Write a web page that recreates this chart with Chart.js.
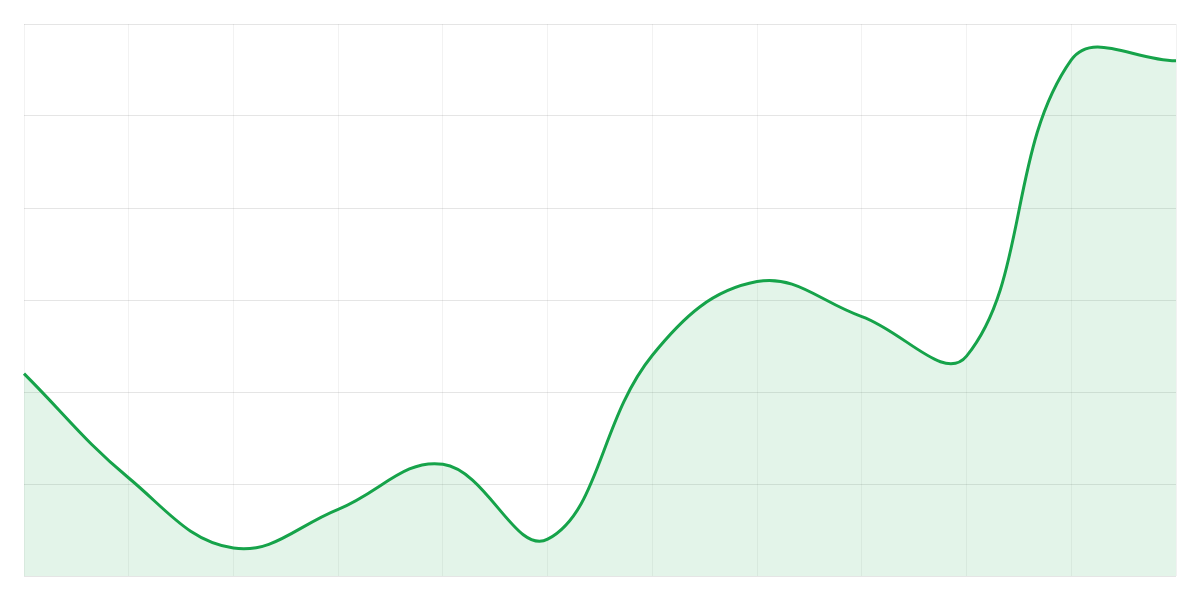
<!DOCTYPE html>
<html>
<head>
<meta charset="utf-8">
<script src="https://cdn.jsdelivr.net/npm/chart.js@4"></script>
<style>
  html, body { margin: 0; padding: 0; background: #ffffff; }
  #wrap { width: 1200px; height: 600px; }
</style>
</head>
<body>
<div id="wrap"><canvas id="c" width="1200" height="600"></canvas></div>
<script>
const categories = ["Jan", "Feb", "Mar", "Apr", "May", "Jun", "Jul", "Aug", "Sep", "Oct", "Nov", "Dec"];
const seriesValues = [22, 10.65, 3.04, 7.25, 12.14, 4.0, 24.0, 32.0, 28.2, 23.9, 56.1, 56.0];
const yMin = 0;
const yMax = 60;
const yStep = 10;

new Chart(document.getElementById('c'), {
  type: 'line',
  data: {
    labels: categories,
    datasets: [{
      label: 'Series',
      data: seriesValues,
      borderColor: '#16a34a',
      backgroundColor: 'rgba(22,163,74,0.12)',
      borderWidth: 3,
      fill: 'start',
      tension: 0.4,
      pointRadius: 0,
      pointHoverRadius: 0
    }]
  },
  options: {
    responsive: false,
    animation: false,
    layout: { padding: 24 },
    plugins: { legend: { display: false }, tooltip: { enabled: false } },
    scales: {
      x: {
        ticks: { display: false },
        grid: { color: 'rgba(0,0,0,0.05)', drawTicks: false },
        border: { display: false }
      },
      y: {
        min: yMin, max: yMax,
        ticks: { display: false, stepSize: yStep },
        grid: { color: 'rgba(0,0,0,0.1)', drawTicks: false },
        border: { display: false }
      }
    }
  }
});
</script>
</body>
</html>
